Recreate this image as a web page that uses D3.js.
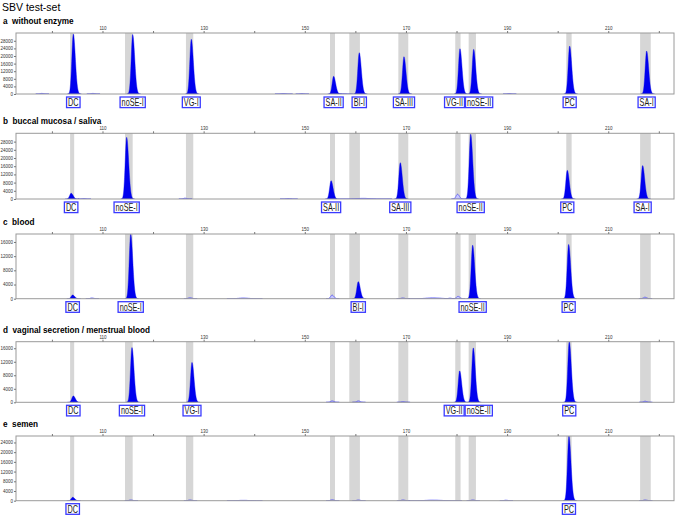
<!DOCTYPE html>
<meta charset="utf-8">
<style>
body { margin: 0; background: #fff; }
svg { font-family: Arial, "Liberation Sans", sans-serif; }
.frame { fill: none; stroke: #9a9a9a; stroke-width: 1px; }
.bin { fill: #d6d6d6; }
.peak { fill: #0000ee; stroke: #0000ee; stroke-width: 0.4px; }
.minor { fill: #c8c8ff; stroke: #4a4aff; stroke-width: 0.7px; }
.axis text { font-size: 4.5px; fill: #333; }
.axis line { stroke: #777; }
.axis path { display: none; }
.ptitle { font-size: 8.2px; font-weight: bold; white-space: pre; }
.mlabel rect { fill: #fff; stroke: #3a3aff; stroke-width: 1.3px; }
.mlabel text { font-size: 11px; fill: #1a1a1a; }
</style>
<svg width="676" height="516"></svg>
<script src="https://cdn.jsdelivr.net/npm/d3@7"></script>
<script>

// fragment size axis (bp)
var sizeTicks = [100, 110, 120, 130, 140, 150, 160, 170, 180, 190, 200, 210, 220];
var sizeLabels = [110, 130, 150, 170, 190, 210];

// marker bins: name, from, to
var bins = [
  ["DC", 103.6, 104.4],
  ["noSE-I", 114.45, 115.97],
  ["VG-I", 126.5, 127.95],
  ["SA-II", 154.98, 155.97],
  ["BI-I", 158.8, 160.9],
  ["SA-III", 168.5, 170.46],
  ["VG-II", 179.75, 180.8],
  ["noSE-II", 182.4, 183.84],
  ["PC", 201.7, 202.76],
  ["SA-I", 216.3, 218.4]
];

var panelTitles = [
  "a  without enzyme",
  "b  buccal mucosa / saliva",
  "c  blood",
  "d  vaginal secretion / menstrual blood",
  "e  semen"
];

var yMaxes = [32100, 32060, 18250, 17940, 26660];
var yTicksA = [0, 4000, 8000, 12000, 16000, 20000, 24000, 28000];
var yTicksB = [0, 4000, 8000, 12000, 16000, 20000, 24000, 28000];
var yTicksC = [0, 4000, 8000, 12000, 16000];
var yTicksD = [0, 4000, 8000, 12000, 16000];
var yTicksE = [0, 4000, 8000, 12000, 16000, 20000, 24000];

// called peaks: marker, size, height (RFU)
var peaksA = [
  ["DC", 104.23, 31500], ["noSE-I", 115.97, 31300], ["VG-I", 127.56, 28800],
  ["SA-II", 155.7, 9300], ["BI-I", 160.77, 21700], ["SA-III", 169.61, 19600],
  ["VG-II", 180.68, 23800], ["noSE-II", 183.39, 23500], ["PC", 202.37, 25200],
  ["SA-I", 217.59, 22600]
];
var peaksB = [
  ["DC", 103.8, 2800], ["noSE-I", 114.78, 30100], ["SA-II", 155.2, 8900],
  ["SA-III", 168.88, 17700], ["noSE-II", 182.8, 31600], ["PC", 201.9, 14000],
  ["SA-I", 216.8, 16300]
];
var peaksC = [
  ["DC", 104.1, 1040], ["noSE-I", 115.58, 18200], ["BI-I", 160.57, 4800],
  ["noSE-II", 183.19, 15100], ["PC", 202.17, 15300]
];
var peaksD = [
  ["DC", 104.23, 1870], ["noSE-I", 115.83, 16200], ["VG-I", 127.7, 11800],
  ["VG-II", 180.62, 9300], ["noSE-II", 183.31, 16100], ["PC", 202.29, 17900]
];
var peaksE = [
  ["DC", 104.11, 1400], ["PC", 202.23, 26600]
];

// uncalled small peaks: size, height, width
var minorA = [[98.0, 300, 0.3], [108.1, 300, 0.3], [145.7, 250, 0.4], [149.4, 250, 0.3], [157.6, 200, 0.4], [190.4, 250, 0.3]];
var minorB = [[106.3, 200, 0.3], [126.3, 400, 0.3], [146.7, 200, 0.4], [161.5, 300, 1.2], [180.2, 2300, 0.3]];
var minorC = [[107.9, 200, 0.3], [127.3, 300, 0.3], [137.8, 200, 0.8], [155.4, 1000, 0.3], [169.35, 200, 0.3],
  [175.3, 250, 1.2], [178.7, 150, 0.3], [180.3, 650, 0.3], [217.25, 400, 0.3]];
var minorD = [[155.4, 400, 0.3], [160.6, 400, 0.3], [169.4, 200, 0.3], [217.3, 300, 0.3]];
var minorE = [[115.6, 300, 0.3], [127.3, 300, 0.3], [137.8, 150, 0.8], [155.4, 400, 0.3], [160.6, 300, 0.3],
  [169.4, 300, 0.3], [175.3, 250, 1.2], [183.2, 300, 0.3], [189.75, 200, 0.3], [217.3, 300, 0.3]];

var yTicks = [yTicksA, yTicksB, yTicksC, yTicksD, yTicksE];
var peaks = [peaksA, peaksB, peaksC, peaksD, peaksE];
var minors = [minorA, minorB, minorC, minorD, minorE];

// layout
var tops = [33, 133.3, 234, 341.7, 436],
    bases = [94, 199, 298.7, 402.3, 500.7],
    left = 16, right = 674;

var svg = d3.select("svg");

svg.append("text")
    .attr("x", 2).attr("y", 10.5)
    .style("font-size", "10.5px")
    .text("SBV test-set");

var x = d3.scaleLinear().domain([92.9, 223]).range([left, right]);

// sample a peak outline around its centre
function peakPoints(pos, h, w, wr) {
  var pts = [];
  for (var d = -4 * w; d <= 4 * wr; d += 0.02) {
    var s = d < 0 ? w : wr;
    pts.push([pos + d, h * Math.exp(-0.5 * (d / s) * (d / s))]);
  }
  return pts;
}

peaks.forEach(function(list, i) {
  var top = tops[i], base = bases[i];
  var y = d3.scaleLinear().domain([0, yMaxes[i]]).range([base, top]);
  var g = svg.append("g");

  g.append("clipPath").attr("id", "clip" + i)
    .append("rect")
      .attr("x", left).attr("y", top)
      .attr("width", right - left).attr("height", base - top);

  g.append("text")
      .attr("class", "ptitle")
      .attr("x", 3).attr("y", top - 9)
      .text(panelTitles[i]);

  g.selectAll(".bin")
    .data(bins)
    .enter().append("rect")
      .attr("class", "bin")
      .attr("x", function(d) { return x(d[1]); })
      .attr("width", function(d) { return x(d[2]) - x(d[1]); })
      .attr("y", top)
      .attr("height", base - top);

  var area = d3.area()
      .x(function(d) { return x(d[0]); })
      .y0(base)
      .y1(function(d) { return y(d[1]); });

  var plot = g.append("g").attr("clip-path", "url(#clip" + i + ")");

  plot.selectAll(".minor")
    .data(minors[i])
    .enter().append("path")
      .attr("class", "minor")
      .attr("d", function(d) { return area(peakPoints(d[0], d[1], d[2], d[2] * 1.2)); });

  plot.selectAll(".peak")
    .data(list)
    .enter().append("path")
      .attr("class", "peak")
      .attr("d", function(d) { return area(peakPoints(d[1], d[2], 0.29, 0.4)); });

  g.append("rect")
      .attr("class", "frame")
      .attr("x", left).attr("y", top)
      .attr("width", right - left).attr("height", base - top);

  g.append("g")
      .attr("class", "axis")
      .attr("transform", "translate(0," + top + ")")
      .call(d3.axisTop(x).tickValues(sizeTicks).tickSize(2).tickPadding(1)
        .tickFormat(function(d) { return sizeLabels.indexOf(d) >= 0 ? d : ""; }));

  g.append("g")
      .attr("class", "axis")
      .attr("transform", "translate(" + left + ",0)")
      .call(d3.axisLeft(y).tickValues(yTicks[i]).tickSize(2).tickPadding(1)
        .tickFormat(d3.format("d")));

  // marker labels under the peaks, pushed apart when they overlap
  var labels = g.selectAll(".mlabel")
    .data(list)
    .enter().append("g")
      .attr("class", "mlabel");

  var rects = labels.append("rect");
  var texts = labels.append("text").text(function(d) { return d[0]; });

  var boxes = [];
  texts.each(function(d) {
    var w = this.getComputedTextLength() * 0.66 + 3;
    boxes.push({ c: x(d[1]), w: w });
  });
  for (var k = 0; k < 3; k++) {
    for (var j = 1; j < boxes.length; j++) {
      var a = boxes[j - 1], b = boxes[j];
      var gap = (b.c - b.w / 2) - (a.c + a.w / 2) - 1;
      if (gap < 0) { a.c += gap / 2; b.c -= gap / 2; }
    }
  }

  rects
      .attr("x", function(d, j) { return boxes[j].c - boxes[j].w / 2; })
      .attr("y", base + 3)
      .attr("width", function(d, j) { return boxes[j].w; })
      .attr("height", 10.6);

  texts
      .attr("transform", function(d, j) {
        return "translate(" + boxes[j].c + "," + (base + 12.1) + ") scale(0.66,1)";
      })
      .attr("text-anchor", "middle");
});

</script>
